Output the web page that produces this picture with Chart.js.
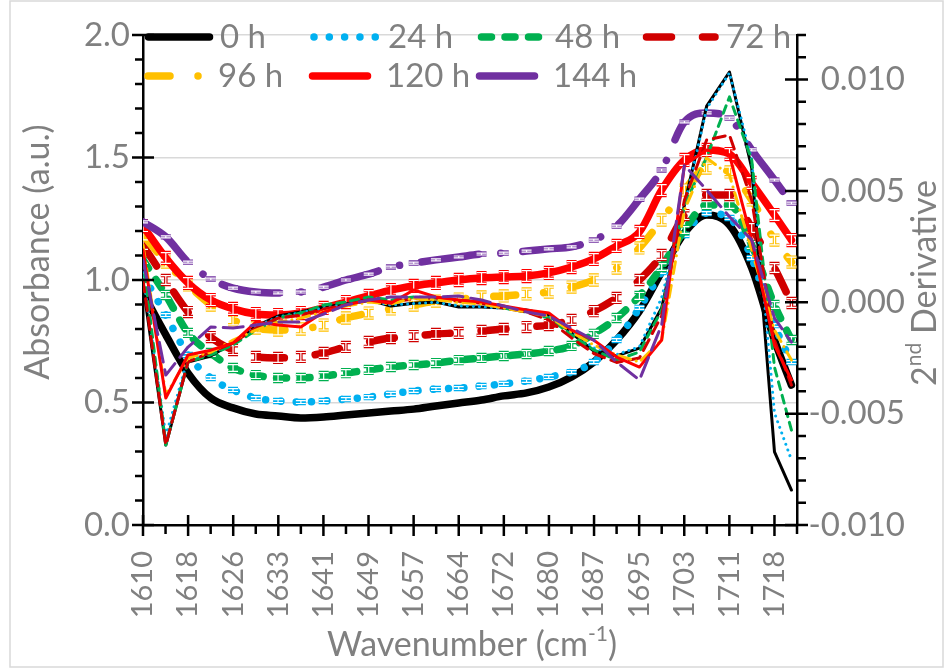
<!DOCTYPE html>
<html>
<head>
<meta charset="utf-8">
<script src="https://cdn.jsdelivr.net/npm/chart.js@4.4.1/dist/chart.umd.min.js"></script>
<style>
  html, body { margin: 0; padding: 0; background: #fff; }
</style>
</head>
<body>
<canvas id="c" width="945" height="668"></canvas>
<script>
/* ===== data ===== */

// wavenumber of each point (cm-1)
const wn = [1610.3, 1614.2, 1618.0, 1621.9, 1625.7, 1629.6, 1633.4, 1637.3, 1641.2, 1645.0,
            1648.9, 1652.7, 1656.6, 1660.4, 1664.3, 1668.2, 1672.0, 1675.9, 1679.7, 1683.6,
            1687.4, 1691.3, 1695.2, 1699.0, 1702.9, 1706.7, 1710.6, 1714.4, 1718.3, 1721.2];

const tickLabels = ["1610", "1618", "1626", "1633", "1641", "1649", "1657", "1664",
                    "1672", "1680", "1687", "1695", "1703", "1711", "1718"];

// absorbance (left axis)
const abs0   = [0.947, 0.776, 0.620, 0.518, 0.478, 0.453, 0.445, 0.437, 0.441, 0.449, 0.457, 0.465, 0.473, 0.486, 0.498,
                0.510, 0.527, 0.539, 0.563, 0.604, 0.665, 0.755, 0.873, 1.033, 1.192, 1.265, 1.224, 1.049, 0.755, 0.571];
const abs24  = [1.020, 0.857, 0.694, 0.600, 0.551, 0.518, 0.506, 0.502, 0.506, 0.514, 0.522, 0.535, 0.547, 0.555, 0.559,
                0.567, 0.576, 0.588, 0.604, 0.624, 0.665, 0.755, 0.886, 1.033, 1.184, 1.273, 1.253, 1.090, 0.816, 0.665];
const abs48  = [1.082, 0.939, 0.784, 0.702, 0.641, 0.612, 0.600, 0.600, 0.608, 0.620, 0.633, 0.645, 0.653, 0.661, 0.673,
                0.682, 0.690, 0.698, 0.710, 0.731, 0.780, 0.845, 0.935, 1.053, 1.204, 1.306, 1.306, 1.143, 0.898, 0.755];
const abs72  = [1.143, 1.000, 0.869, 0.767, 0.714, 0.686, 0.682, 0.686, 0.702, 0.727, 0.747, 0.763, 0.771, 0.780, 0.784,
                0.792, 0.800, 0.808, 0.816, 0.837, 0.873, 0.927, 1.000, 1.102, 1.265, 1.347, 1.347, 1.212, 1.049, 0.906];
const abs96  = [1.184, 1.073, 0.980, 0.898, 0.837, 0.804, 0.796, 0.800, 0.816, 0.845, 0.865, 0.882, 0.898, 0.914, 0.922,
                0.931, 0.935, 0.943, 0.951, 0.971, 1.000, 1.049, 1.131, 1.245, 1.367, 1.457, 1.441, 1.327, 1.163, 1.073];
const abs120 = [1.220, 1.090, 0.988, 0.918, 0.882, 0.861, 0.857, 0.865, 0.886, 0.910, 0.935, 0.959, 0.976, 0.988, 1.000,
                1.008, 1.012, 1.016, 1.029, 1.053, 1.086, 1.139, 1.196, 1.367, 1.490, 1.531, 1.514, 1.396, 1.265, 1.163];
const abs144 = [1.237, 1.176, 1.073, 1.004, 0.967, 0.951, 0.947, 0.951, 0.971, 1.000, 1.024, 1.053, 1.069, 1.082, 1.094,
                1.106, 1.110, 1.118, 1.127, 1.135, 1.163, 1.220, 1.330, 1.449, 1.645, 1.682, 1.661, 1.531, 1.408, 1.314];

// error bar half heights (absorbance)
const absErr = [0, 0.006, 0.014, 0.018, 0.020, 0.022, 0.004];

// 2nd derivative (right axis)
const der0   = [0.00078, -0.00641, -0.00268, -0.00241, -0.00183, -0.00107, -0.00062, -0.00044, -0.00021, -0.00008,
                0.00010, -0.00017, -0.00004, 0.00001, -0.00021, -0.00021, -0.00026, -0.00035, -0.00057, -0.00138,
                -0.00219, -0.00241, -0.00206, -0.00026, 0.00437, 0.00881, 0.01034, 0.00603, -0.00672, -0.00843];
const der24  = [0.00120, -0.00600, -0.00250, -0.00236, -0.00180, -0.00110, -0.00066, -0.00046, -0.00024, -0.00010,
                0.00006, -0.00012, -0.00006, 0.00000, -0.00016, -0.00020, -0.00028, -0.00038, -0.00060, -0.00130,
                -0.00205, -0.00235, -0.00200, 0.00020, 0.00430, 0.00870, 0.01030, 0.00640, -0.00497, -0.00708];
const der48  = [0.00190, -0.00641, -0.00268, -0.00236, -0.00192, -0.00125, -0.00071, -0.00048, -0.00012, 0.00001,
                0.00024, 0.00010, 0.00024, 0.00019, 0.00010, 0.00001, -0.00026, -0.00044, -0.00071, -0.00147,
                -0.00214, -0.00259, -0.00223, -0.00035, 0.00437, 0.00651, 0.00922, 0.00639, -0.00291, -0.00574];
const der72  = [0.00100, -0.00641, -0.00268, -0.00224, -0.00183, -0.00116, -0.00071, -0.00057, -0.00030, -0.00012,
                0.00010, 0.00001, 0.00015, 0.00019, 0.00005, -0.00004, -0.00026, -0.00044, -0.00080, -0.00160,
                -0.00230, -0.00270, -0.00250, -0.00060, 0.00459, 0.00729, 0.00751, 0.00459, -0.00170, -0.00372];
const der96  = [0.00257, -0.00416, -0.00250, -0.00224, -0.00170, -0.00125, -0.00089, -0.00071, -0.00044, -0.00017,
                0.00001, -0.00008, 0.00019, 0.00010, 0.00001, -0.00008, -0.00026, -0.00044, -0.00062, -0.00134,
                -0.00192, -0.00237, -0.00268, -0.00170, 0.00414, 0.00648, 0.00571, 0.00235, -0.00125, -0.00259];
const der120 = [0.00235, -0.00430, -0.00237, -0.00215, -0.00183, -0.00089, -0.00102, -0.00111, -0.00044, -0.00012,
                0.00010, -0.00004, 0.00055, 0.00024, 0.00010, 0.00001, -0.00017, -0.00035, -0.00048, -0.00125,
                -0.00170, -0.00246, -0.00291, -0.00170, 0.00616, 0.00684, 0.00662, 0.00280, -0.00192, -0.00349];
const der144 = [0.00190, -0.00327, -0.00201, -0.00111, -0.00116, -0.00102, -0.00089, -0.00089, -0.00053, -0.00012,
                0.00010, 0.00024, 0.00024, 0.00024, 0.00028, 0.00010, -0.00017, -0.00044, -0.00062, -0.00116,
                -0.00170, -0.00268, -0.00349, -0.00102, 0.00616, 0.00504, 0.00384, 0.00280, -0.00071, -0.00179];

const labels = ["0 h", "24 h", "48 h", "72 h", "96 h", "120 h", "144 h"];
const colors = ["#000000", "#00B0F0", "#00B050", "#D00000", "#FFC000", "#FF0000", "#7030A0"];
const absSets = [abs0, abs24, abs48, abs72, abs96, abs120, abs144];
const derSets = [der0, der24, der48, der72, der96, der120, der144];

// line styles
const thickDash = [[], [0.01, 15.3], [10, 13.5], [25, 31], [22, 28, 0.01, 28], [], [58, 22, 0.01, 22]];
const thinDash  = [[], [0.01, 6], [8, 6], [12, 7], [12, 6, 0.01, 6], [], [20, 8]];

const GRAY = "#808080";
const FONT = "Lato";

/* ===== helpers ===== */

function drawParts(ctx, parts, x, y) {
  // centred run of text with optional superscript parts
  const big = `34px ${FONT}`, small = `21px ${FONT}`;
  let total = 0;
  parts.forEach(p => { ctx.font = p.sup ? small : big; total += ctx.measureText(p.t).width; });
  let cx = x - total / 2;
  ctx.textAlign = "left";
  ctx.textBaseline = "middle";
  parts.forEach(p => {
    ctx.font = p.sup ? small : big;
    ctx.fillText(p.t, cx, p.sup ? y - 11 : y);
    cx += ctx.measureText(p.t).width;
  });
}

const errorBars = {
  id: "errorBars",
  afterDatasetDraw(chart, args) {
    const ds = chart.data.datasets[args.index];
    if (!ds.err) return;
    const { ctx, chartArea: a } = chart;
    const xs = chart.scales.x, ys = chart.scales.y;
    ctx.save();
    ctx.beginPath();
    ctx.rect(a.left, a.top, a.right - a.left, a.bottom - a.top);
    ctx.clip();
    ctx.beginPath();
    ds.data.forEach(p => {
      const x = xs.getPixelForValue(p.x);
      const y1 = ys.getPixelForValue(p.y + ds.err);
      const y2 = ys.getPixelForValue(p.y - ds.err);
      ctx.moveTo(x, y1); ctx.lineTo(x, y2);
      ctx.moveTo(x - 5, y1); ctx.lineTo(x + 5, y1);
      ctx.moveTo(x - 5, y2); ctx.lineTo(x + 5, y2);
    });
    ctx.setLineDash([]);
    ctx.strokeStyle = ds.borderColor;
    ctx.lineWidth = 3.5;
    ctx.stroke();
    ctx.strokeStyle = "#ffffff";
    ctx.lineWidth = 1.2;
    ctx.stroke();
    ctx.restore();
  }
};

const decor = {
  id: "decor",
  afterDraw(chart) {
    const { ctx, chartArea: a } = chart;
    const L = chart.scales.y, R = chart.scales.y2, X = chart.scales.x;
    ctx.save();

    // tick marks
    ctx.strokeStyle = "#000";
    ctx.lineWidth = 2.5;
    ctx.beginPath();
    for (let k = 0; k <= 20; k++) {
      const y = L.getPixelForValue(k * 0.1);
      if (k % 5 === 0) { ctx.moveTo(a.left - 11, y); ctx.lineTo(a.left + 11, y); }
      else { ctx.moveTo(a.left - 8, y); ctx.lineTo(a.left, y); }
    }
    for (let k = 0; k <= 22; k++) {
      const y = R.getPixelForValue(-0.010 + k * 0.001);
      if (k % 5 === 0) { ctx.moveTo(a.right - 12, y); ctx.lineTo(a.right + 11, y); }
      else { ctx.moveTo(a.right, y); ctx.lineTo(a.right + 9, y); }
    }
    for (let k = 0; k <= 29; k++) {
      const x = X.getPixelForValue(1610.3 + k * 3.857);
      if (k % 2 === 0) { ctx.moveTo(x, a.bottom - 10); ctx.lineTo(x, a.bottom + 11); }
      else { ctx.moveTo(x, a.bottom); ctx.lineTo(x, a.bottom + 9); }
    }
    ctx.stroke();

    // axis titles
    ctx.fillStyle = GRAY;
    drawParts(ctx, [{ t: "Wavenumber (cm" }, { t: "-1", sup: true }, { t: ")" }], 472, 645);
    ctx.save();
    ctx.translate(38, 252);
    ctx.rotate(-Math.PI / 2);
    drawParts(ctx, [{ t: "Absorbance (a.u.)" }], 0, 0);
    ctx.restore();
    ctx.save();
    ctx.translate(925, 283);
    ctx.rotate(-Math.PI / 2);
    drawParts(ctx, [{ t: "2" }, { t: "nd", sup: true }, { t: " Derivative" }], 0, 0);
    ctx.restore();

    // legend inside the plot
    const items = [
      [0, 148.5, 209.5, 37, 220], [1, 314, 376, 37, 388], [2, 481.5, 540, 37, 555], [3, 646.5, 715, 37, 726],
      [4, 148, 200, 76, 218], [5, 312.5, 367.5, 76, 386], [6, 479.5, 534.5, 76, 553]
    ];
    items.forEach(([i, x0, x1, y, tx]) => {
      ctx.beginPath();
      ctx.setLineDash(thickDash[i]);
      ctx.lineCap = "round";
      ctx.strokeStyle = colors[i];
      ctx.lineWidth = 7.5;
      ctx.moveTo(x0, y);
      ctx.lineTo(x1, y);
      ctx.stroke();
      ctx.setLineDash([]);
      ctx.font = `33px ${FONT}`;
      ctx.fillStyle = GRAY;
      ctx.textAlign = "left";
      ctx.textBaseline = "middle";
      ctx.fillText(labels[i], tx, y);
    });

    // chart border
    ctx.strokeStyle = "#D9D9D9";
    ctx.lineWidth = 1.5;
    ctx.strokeRect(10, 1, 933, 666);
    ctx.restore();
  }
};

/* ===== chart ===== */

function build() {
  const datasets = [];
  absSets.forEach((vals, i) => {
    datasets.push({
      label: labels[i],
      data: wn.map((w, j) => ({ x: w, y: vals[j] })),
      yAxisID: "y",
      borderColor: colors[i],
      borderWidth: 7.5,
      borderDash: thickDash[i],
      borderCapStyle: "round",
      borderJoinStyle: "round",
      cubicInterpolationMode: "monotone",
      pointRadius: 0,
      fill: false,
      err: absErr[i],
      order: -i,
    });
  });
  derSets.forEach((vals, i) => {
    datasets.push({
      label: labels[i] + " 2nd",
      data: wn.map((w, j) => ({ x: w, y: vals[j] })),
      yAxisID: "y2",
      borderColor: colors[i],
      borderWidth: 3,
      borderDash: thinDash[i],
      borderCapStyle: "round",
      borderJoinStyle: "round",
      tension: 0,
      pointRadius: 0,
      fill: false,
      order: -(i + 7),
    });
  });

  const tickFont = { family: FONT, size: 33 };
  const xTicks = tickLabels.map((_, k) => 1610.3 + k * 7.714);

  new Chart(document.getElementById("c"), {
    type: "line",
    data: { datasets },
    options: {
      responsive: false,
      animation: false,
      events: [],
      layout: { padding: { top: 35, left: 0, right: 40, bottom: 0 } },
      plugins: { legend: { display: false }, tooltip: { enabled: false } },
      scales: {
        x: {
          type: "linear",
          position: "bottom",
          min: 1610.3,
          max: 1722.15,
          afterBuildTicks: s => { s.ticks = xTicks.map(v => ({ value: v })); },
          afterFit: s => { s.height = 143; },
          grid: { display: false },
          border: { color: "#000", width: 2.5 },
          ticks: {
            autoSkip: false,
            minRotation: 90,
            maxRotation: 90,
            padding: 18,
            color: GRAY,
            font: { family: FONT, size: 29 },
            callback: (v, i) => tickLabels[i],
          },
        },
        y: {
          position: "left",
          min: 0,
          max: 2,
          afterFit: s => { s.width = 143; },
          grid: { color: "#D9D9D9", lineWidth: 1.5, drawTicks: false },
          border: { color: "#000", width: 2.5 },
          ticks: { stepSize: 0.5, padding: 13, color: GRAY, font: tickFont, callback: v => v.toFixed(1) },
        },
        y2: {
          position: "right",
          min: -0.010,
          max: 0.012,
          afterFit: s => { s.width = 108; },
          grid: { display: false, drawTicks: false },
          border: { color: "#000", width: 2.5 },
          ticks: {
            stepSize: 0.005,
            includeBounds: false,
            crossAlign: "far",
            color: GRAY,
            font: tickFont,
            callback: v => v.toFixed(3),
          },
        },
      },
    },
    plugins: [errorBars, decor],
  });
}

if (document.fonts && document.fonts.load) {
  document.fonts.load(`33px ${FONT}`).then(build, build);
} else {
  build();
}
</script>
</body>
</html>
